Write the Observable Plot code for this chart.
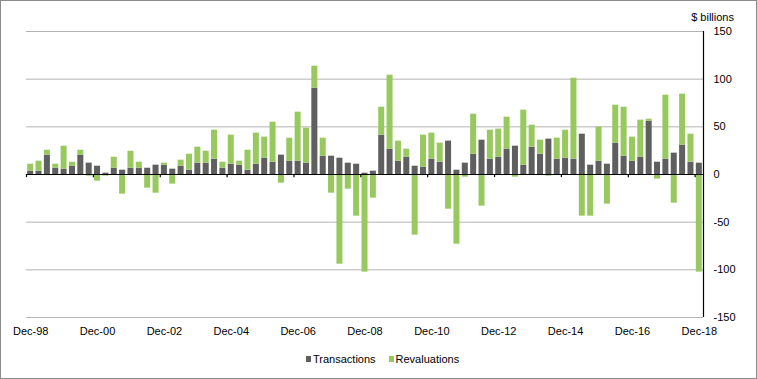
<!DOCTYPE html>
<html>
<head>
<meta charset="utf-8">
<script src="https://cdn.jsdelivr.net/npm/d3@7"></script>
<script src="https://cdn.jsdelivr.net/npm/@observablehq/plot@0.6"></script>
<style>
  html, body { margin: 0; padding: 0; background: #fff; }
  #wrap { position: relative; width: 755px; height: 377px; border: 1px solid #8c8c8c; background: #fff;
          font-family: "Liberation Sans", Arial, sans-serif; color: #000; overflow: hidden; }
  #unit { position: absolute; right: 22px; top: 10px; font-size: 11px; line-height: 12px; }
  #legend { position: absolute; top: 352px; left: 305px; font-size: 11px; line-height: 12px; display: flex; align-items: center; white-space: nowrap; }
  #legend .sw { display: inline-block; width: 5px; height: 6px; margin-right: 2px; }
  #legend .item { display: inline-flex; align-items: center; margin-right: 13px; }
</style>
</head>
<body>
<div id="wrap">
  <div id="chart"></div>
  <div id="unit">$ billions</div>
  <div id="legend"></div>
</div>
<script>
// Quarterly categories Dec-98 .. Dec-18
const months = ["Mar", "Jun", "Sep", "Dec"];
const quarters = ["Dec-98"];
for (let y = 1999; y <= 2018; y++) {
  for (const m of months) quarters.push(m + "-" + String(y % 100).padStart(2, "0"));
}
const tickLabels = ["Dec-98", "Dec-00", "Dec-02", "Dec-04", "Dec-06", "Dec-08", "Dec-10", "Dec-12", "Dec-14", "Dec-16", "Dec-18"];
const yTicks = [-150, -100, -50, 0, 50, 100, 150];
const seriesNames = ["Transactions", "Revaluations"];
const seriesColors = ["#5f5f5f", "#98c95f"];

const transactions = [
  3.5, 3.5, 20.3, 6.6, 5.6, 8.7, 20.3, 11.9, 8.7, 1.4,
  6.6, 4.5, 6.6, 6.6, 6.6, 9.8, 9.8, 5.6, 8.7, 4.5,
  11.9, 11.9, 16.1, 6.6, 10.8, 9.8, 4.5, 10.8, 17.1, 12.9,
  20.3, 14, 14, 11.9, 90.6, 19.2, 19.2, 17.1, 11.9, 10.8,
  1.4, 3.5, 41.3, 26.6, 14, 18.2, 8.7, 7.7, 16.1, 12.9,
  35, 4.5, 11.9, 21.3, 36, 16.1, 18.2, 26.6, 29.7, 9.8,
  28.7, 21.3, 37.1, 16.1, 17.1, 16.1, 42.3, 9.8, 14, 10.8,
  32.9, 19.2, 14, 18.2, 55.9, 12.9, 16.1, 22.4, 30.8, 12.9, 11.9
];
const revaluations = [
  7.3, 10.5, 5.2, 4.2, 24.1, 4.2, 5.2, -1.7, -7, -1.7,
  11.5, -20.6, 17.8, 6.3, -14.3, -19.6, 2.1, -10.1, 6.3, 16.8,
  16.8, 12.6, 30.4, 6.3, 30.5, 4.2, 21, 32.6, 22.1, 42,
  -9.1, 24.1, 51.4, 36.7, 23, 18.9, -19.6, -94.1, -15.4, -43.7,
  -102.4, -24.8, 29.3, 77.6, 21, 8.4, -63.6, 33.6, 27.3, 20,
  -36.4, -73.1, -2.8, 42, -33.2, 30.4, 29.4, 33.5, -2.8, 57.7,
  23, 14.7, -1.7, 22, 29.4, 84.9, -43.7, -43.7, 35.7, -31.1,
  39.8, 51.4, 25.2, 38.8, 2.1, -4.9, 67.1, -30.1, 53.5, 29.4, -102.4
];

const rows = [];
quarters.forEach((q, i) => {
  rows.push({quarter: q, series: seriesNames[0], value: transactions[i]});
  rows.push({quarter: q, series: seriesNames[1], value: revaluations[i]});
});

const W = 755, H = 345, ML = 25, MR = 53, MT = 30, MB = 29;
const step = (W - ML - MR) / quarters.length;
const lastQ = quarters[quarters.length - 1];

const chart = Plot.plot({
  width: W,
  height: H,
  marginLeft: ML,
  marginRight: MR,
  marginTop: MT,
  marginBottom: MB,
  style: {fontSize: "11px", fontFamily: "'Liberation Sans', Arial, sans-serif", color: "#000", background: "#fff", overflow: "visible"},
  x: {type: "band", domain: quarters, paddingInner: 0.28, paddingOuter: 0.14, round: false, axis: null},
  y: {domain: [-150, 150], axis: null},
  color: {domain: seriesNames, range: seriesColors},
  marks: [
    Plot.ruleY(yTicks.filter(d => d !== 0), {stroke: "#b4b4b4", strokeWidth: 1}),
    Plot.barY(rows, {x: "quarter", y: "value", fill: "series", order: seriesNames}),
    Plot.ruleY([0], {stroke: "#000", strokeWidth: 1.2}),
    Plot.ruleX(tickLabels, {x: d => d, y1: 0, y2: -3.3, dx: -step / 2, stroke: "#000", strokeWidth: 1.2}),
    Plot.ruleX([lastQ], {x: d => d, y1: -150, y2: 150, dx: step / 2, stroke: "#000", strokeWidth: 1.2}),
    Plot.axisX({ticks: tickLabels, tickSize: 0, tickPadding: 10, anchor: "bottom", label: null, fontSize: 11}),
    Plot.axisY({ticks: yTicks, anchor: "right", tickSize: 0, tickPadding: 10, label: null, tickFormat: d => String(d), fontSize: 11})
  ]
});
document.getElementById("chart").appendChild(chart);

const legend = document.getElementById("legend");
seriesNames.forEach((name, i) => {
  const item = document.createElement("span");
  item.className = "item";
  const sw = document.createElement("span");
  sw.className = "sw";
  sw.style.background = seriesColors[i];
  item.appendChild(sw);
  item.appendChild(document.createTextNode(name));
  legend.appendChild(item);
});
</script>
</body>
</html>
